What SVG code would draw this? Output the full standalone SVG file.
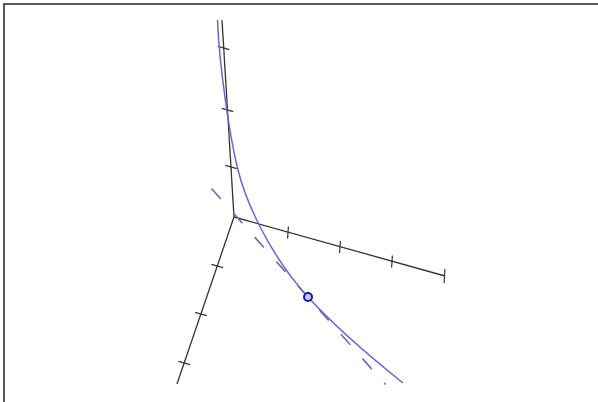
<svg xmlns="http://www.w3.org/2000/svg" width="598" height="402" viewBox="0 0 598 402">
<style>
.axis{stroke:#333;stroke-width:1.3;fill:none}
.tick{stroke:#333;stroke-width:1.2;fill:none}
.curve{stroke:#7a5fc8;stroke-width:1.5;fill:none}
.tangent{stroke:#5a73b5;stroke-width:1.6;fill:none;stroke-dasharray:14 18.5}
.frame{stroke:#222;stroke-width:1.5;fill:none}
</style>
<rect width="598" height="402" fill="#fff"/>
<path class="frame" d="M4,402 V4 H598"/>
<g id="axes">
  <line class="axis" x1="234" y1="217" x2="222" y2="20"/>
  <line class="axis" x1="234" y1="217" x2="445" y2="276"/>
  <line class="axis" x1="234" y1="217" x2="177" y2="384"/>
  <g id="ticks">
    <line class="tick" x1="225.2" y1="165.4" x2="236.8" y2="168.6"/>
    <line class="tick" x1="221.7" y1="108.4" x2="233.3" y2="111.6"/>
    <line class="tick" x1="217.9" y1="46.4" x2="229.5" y2="49.6"/>
    <line class="tick" x1="288.4" y1="226.5" x2="287.6" y2="238.5"/>
    <line class="tick" x1="340.4" y1="241" x2="339.6" y2="253"/>
    <line class="tick" x1="392.4" y1="255.5" x2="391.6" y2="267.5"/>
    <line class="tick" x1="444.9" y1="269" x2="444.1" y2="283"/>
    <line class="tick" x1="211.5" y1="264.4" x2="223.1" y2="267.6"/>
    <line class="tick" x1="195.1" y1="312.4" x2="206.7" y2="315.6"/>
    <line class="tick" x1="178.4" y1="361.4" x2="190" y2="364.6"/>
  </g>
</g>
<g id="tangent-line">
  <line class="tangent" x1="211.5" y1="188.5" x2="385.5" y2="384.5"/>
</g>
<g id="curve">
  <path class="curve" d="M217.5,20 C219.5,70 230.5,140 238,170 C245.5,200 268,253 308,297 C338,330 373,359 403,383"/>
</g>
<g id="point">
  <circle cx="308" cy="297" r="4" fill="#c8c8f0" stroke="#1a1aa0" stroke-width="2"/>
</g>
</svg>
